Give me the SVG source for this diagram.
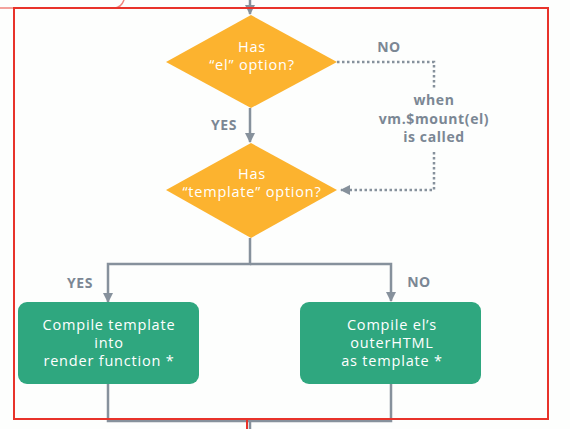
<svg xmlns="http://www.w3.org/2000/svg" width="570" height="429" viewBox="0 0 570 429">
<defs>
<style>
.bg{fill:#fdfefd}
.frame{fill:none;stroke:#e8332a;stroke-width:2}
.dia{fill:#fcb32f}
.box{fill:#2fa77f}
.wt{fill:#ffffff;font-family:"Open Sans","DejaVu Sans",sans-serif;font-size:14.5px;text-anchor:middle;letter-spacing:0.8px}
.lb{fill:#7b8794;font-family:"Open Sans","DejaVu Sans",sans-serif;font-size:14px;font-weight:700;text-anchor:middle;letter-spacing:0.6px}
.ln{fill:none;stroke:#86919c;stroke-width:2.5}
.dot{fill:none;stroke:#86919c;stroke-width:2.5;stroke-dasharray:2.5 2.5}
</style>
<marker id="ah" viewBox="0 0 10 10" refX="9" refY="5" markerWidth="4" markerHeight="4" orient="auto" markerUnits="strokeWidth">
<path d="M0,0 L10,5 L0,10 z" fill="#86919c"/>
</marker>
</defs>
<rect class="bg" x="0" y="0" width="570" height="429"/>
<path d="M0,8 H114 Q121,8 124,0" fill="none" stroke="#e8332a" stroke-width="1.5" opacity="0.6"/>
<g id="connectors">
<path class="ln" d="M250,0 V14" marker-end="url(#ah)"/>
<path class="ln" d="M250,108 V142" marker-end="url(#ah)"/>
<path class="dot" d="M337,62 H434 V89"/>
<path class="dot" d="M434,152 V190 H341" marker-end="url(#ah)"/>
<path class="ln" d="M250,238 V264 H108 V302" marker-end="url(#ah)"/>
<path class="ln" d="M250,264 H391 V301" marker-end="url(#ah)"/>
<path class="ln" d="M108,384 V421 H391 V384"/>
<path class="ln" d="M250,421 V429"/>
<text class="lb" x="389" y="52">NO</text>
<text class="lb" x="434" y="105">when</text>
<text class="lb" x="434" y="124">vm.$mount(el)</text>
<text class="lb" x="434" y="142">is called</text>
<text class="lb" x="224" y="130">YES</text>
<text class="lb" x="80" y="288">YES</text>
<text class="lb" x="419" y="287">NO</text>
</g>
<g id="has-el">
<path class="dia" d="M251,15 L337,62 L251,108 L166,62 z"/>
<text class="wt" x="252" y="52">Has</text>
<text class="wt" x="252" y="70">“el” option?</text>
</g>
<g id="has-template">
<path class="dia" d="M251,143 L337,190 L251,238 L166,190 z"/>
<text class="wt" x="252" y="179">Has</text>
<text class="wt" x="252" y="197">“template” option?</text>
</g>
<g id="compile-template">
<rect class="box" x="18" y="302" width="181" height="82" rx="9"/>
<text class="wt" x="109" y="330">Compile template</text>
<text class="wt" x="109" y="348">into</text>
<text class="wt" x="109" y="366">render function *</text>
</g>
<g id="compile-el">
<rect class="box" x="300" y="302" width="181" height="82" rx="9"/>
<text class="wt" x="392" y="330">Compile el’s</text>
<text class="wt" x="392" y="348">outerHTML</text>
<text class="wt" x="392" y="366">as template *</text>
</g>
<rect class="frame" x="14" y="8" width="534" height="411"/>
<path d="M247,419 V429" stroke="#e8332a" stroke-width="2"/>
</svg>
